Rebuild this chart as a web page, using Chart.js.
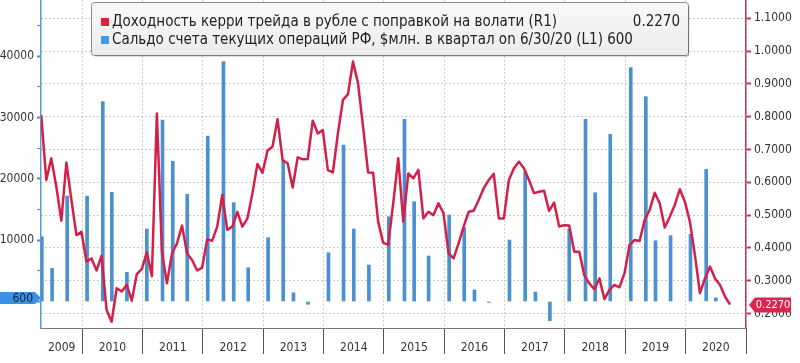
<!DOCTYPE html>
<html>
<head>
<meta charset="utf-8">
<script src="https://cdn.jsdelivr.net/npm/chart.js@4.4.0/dist/chart.umd.min.js"></script>
<style>
  html, body { margin: 0; padding: 0; background: #fff; }
  #wrap { width: 800px; height: 363px; }
</style>
</head>
<body>
<div id="wrap"><canvas id="carryChart" width="800" height="363"></canvas></div>
<script>
// years shown on the bottom axis
const years = [2009, 2010, 2011, 2012, 2013, 2014, 2015, 2016, 2017, 2018, 2019, 2020];

// carry-trade return, monthly from April 2009 (R1)
const lineStart = 2009.32;
const carryValues = [
  0.805, 0.607, 0.673, 0.587, 0.483, 0.660, 0.546, 0.439, 0.449,
  0.358, 0.368, 0.331, 0.376, 0.211, 0.175, 0.277, 0.267, 0.287, 0.239, 0.320, 0.335,
  0.387, 0.314, 0.810, 0.388, 0.292, 0.383, 0.414, 0.468, 0.383, 0.363, 0.331, 0.340,
  0.426, 0.422, 0.465, 0.561, 0.455, 0.465, 0.510, 0.465, 0.490, 0.567, 0.656, 0.629,
  0.696, 0.709, 0.792, 0.668, 0.658, 0.584, 0.676, 0.670, 0.671, 0.788, 0.749, 0.759,
  0.637, 0.630, 0.749, 0.851, 0.869, 0.968, 0.902, 0.770, 0.630, 0.629, 0.480, 0.416,
  0.409, 0.536, 0.673, 0.480, 0.627, 0.612, 0.638, 0.490, 0.510, 0.500, 0.536, 0.506,
  0.384, 0.368, 0.414, 0.465, 0.510, 0.513, 0.546, 0.582, 0.607, 0.626, 0.490, 0.490,
  0.607, 0.643, 0.663, 0.643, 0.607, 0.567, 0.571, 0.574, 0.513, 0.538, 0.465, 0.469,
  0.468, 0.388, 0.388, 0.317, 0.292, 0.274, 0.307, 0.244, 0.272, 0.287, 0.280, 0.323,
  0.409, 0.424, 0.421, 0.485, 0.516, 0.568, 0.536, 0.462, 0.495, 0.531, 0.579, 0.541,
  0.480, 0.378, 0.262, 0.307, 0.343, 0.307, 0.287, 0.251, 0.227
];

// current account, $ mln per quarter (L1)
const barDates = [
  2009.33, 2009.50, 2009.75,
  2010.08, 2010.34, 2010.49, 2010.74,
  2011.07, 2011.33, 2011.50, 2011.74,
  2012.08, 2012.34, 2012.51, 2012.75,
  2013.08, 2013.33, 2013.50, 2013.74,
  2014.08, 2014.33, 2014.50, 2014.75,
  2015.08, 2015.34, 2015.50, 2015.74,
  2016.08, 2016.33, 2016.50, 2016.74,
  2017.08, 2017.34, 2017.51, 2017.75,
  2018.07, 2018.34, 2018.50, 2018.75,
  2019.09, 2019.34, 2019.50, 2019.75,
  2020.08, 2020.34, 2020.50
];
const currentAccount = [
  10570, 5400, 17200,
  17200, 32600, 17800, 4760,
  11830, 29600, 22870, 17490,
  27000, 39120, 16120, 5510,
  10410, 23080, 1420, -450,
  7960, 25530, 11830, 5950,
  13830, 29720, 16280, 7420,
  14110, 12040, 1880, -150,
  10030, 21170, 1550, -3130,
  11780, 29720, 17750, 27270,
  38140, 33410, 9920, 10730,
  11000, 21570, 600
];

const leftTicks = [0, 5000, 10000, 15000, 20000, 25000, 30000, 35000, 40000, 45000];
const rightTicks = [0.2, 0.25, 0.3, 0.35, 0.4, 0.45, 0.5, 0.55, 0.6, 0.65, 0.7, 0.75,
  0.8, 0.85, 0.9, 0.95, 1.0, 1.05, 1.1, 1.15];
const yearTicks = [2010, 2011, 2012, 2013, 2014, 2015, 2016, 2017, 2018, 2019, 2020, 2021];

const legendLabels = [
  "Доходность керри трейда в рубле с поправкой на волати (R1)",
  "Сальдо счета текущих операций РФ, $млн. в квартал on 6/30/20 (L1)"
];
const lastValues = ["0.2270", "600"];

const NARROW = "'Liberation Sans Narrow', 'DejaVu Sans Condensed', sans-serif";
const LEGEND_FONT = "'DejaVu Sans Condensed', 'Liberation Sans', sans-serif";
const RED = "#d42048";
const BLUE = "#4c91cf";

function noPad(s) {
  s.paddingTop = 0;
  s.paddingBottom = 0;
  s.paddingLeft = 0;
  s.paddingRight = 0;
}

function isMajor(v, step) {
  return Math.abs(v / step - Math.round(v / step)) < 1e-6;
}

function drawLegend(chart) {
  const c = chart.ctx;
  c.save();
  const bx = 91.5, by = 2.5, bw = 597, bh = 53;
  const g = c.createLinearGradient(0, by, 0, by + bh);
  g.addColorStop(0, "#f9f9f9");
  g.addColorStop(1, "#ececec");
  c.beginPath();
  c.roundRect(bx, by, bw, bh, 3);
  c.fillStyle = g;
  c.fill();
  c.strokeStyle = "#8c8c8c";
  c.lineWidth = 1;
  c.stroke();
  c.beginPath();
  c.moveTo(bx + 3, by + bh + 0.5);
  c.lineTo(bx + bw, by + bh + 0.5);
  c.lineTo(bx + bw + 0.5, by + 3);
  c.strokeStyle = "rgba(0,0,0,0.25)";
  c.stroke();

  // fit the font to the first row width seen in the picture
  let size = 14;
  c.font = size + "px " + LEGEND_FONT;
  size = Math.max(11, Math.min(15, size * 461 / c.measureText(legendLabels[0]).width));
  c.font = size + "px " + LEGEND_FONT;
  c.textBaseline = "middle";

  const rows = [22, 40];
  c.fillStyle = "#e0203f";
  c.fillRect(101, rows[0] - 4, 8, 8);
  c.fillStyle = "#3d9be9";
  c.fillRect(101, rows[1] - 4, 8, 8);

  c.fillStyle = "#222";
  c.textAlign = "left";
  c.fillText(legendLabels[0], 112, rows[0]);
  c.fillText(legendLabels[1] + " " + lastValues[1], 112, rows[1]);
  c.textAlign = "right";
  c.fillText(lastValues[0], 680, rows[0]);
  c.restore();
}

function drawYearLabels(chart) {
  const c = chart.ctx;
  const xs = chart.scales.x;
  c.save();
  c.font = "12px " + NARROW;
  c.fillStyle = "#333";
  c.textAlign = "center";
  c.textBaseline = "middle";
  years.forEach(function (yr) {
    const lo = Math.max(yr, xs.min);
    const hi = Math.min(yr + 1, xs.max);
    const px = (xs.getPixelForValue(lo) + xs.getPixelForValue(hi)) / 2;
    c.fillText(String(yr), px, chart.chartArea.bottom + 20);
  });
  c.restore();
}

function drawTags(chart) {
  const c = chart.ctx;
  const area = chart.chartArea;
  c.save();
  c.textBaseline = "middle";

  // left: last current account value
  c.font = "12px " + NARROW;
  const yl = Math.round(chart.scales.y.getPixelForValue(currentAccount[currentAccount.length - 1]));
  c.beginPath();
  c.moveTo(0, yl - 6);
  c.lineTo(area.left - 6, yl - 6);
  c.lineTo(area.left, yl);
  c.lineTo(area.left - 6, yl + 6);
  c.lineTo(0, yl + 6);
  c.closePath();
  c.fillStyle = "#3b8fe4";
  c.fill();
  c.fillStyle = "#10203a";
  c.textAlign = "right";
  c.fillText(lastValues[1], area.left - 8, yl + 0.5);

  // right: last carry value
  c.font = "11px " + NARROW;
  const yr = Math.round(chart.scales.y1.getPixelForValue(carryValues[carryValues.length - 1]));
  const x0 = area.right + 3;
  c.beginPath();
  c.moveTo(x0, yr);
  c.lineTo(x0 + 6, yr - 7.5);
  c.lineTo(x0 + 42, yr - 7.5);
  c.lineTo(x0 + 42, yr + 7.5);
  c.lineTo(x0 + 6, yr + 7.5);
  c.closePath();
  c.fillStyle = "#d9264f";
  c.fill();
  c.fillStyle = "#fff";
  c.textAlign = "center";
  c.fillText(lastValues[0], x0 + 24, yr + 0.5);
  c.restore();
}

const overlayPlugin = {
  id: "overlay",
  beforeDraw(chart) {
    const c = chart.ctx;
    c.save();
    c.fillStyle = "#fff";
    c.fillRect(0, 0, chart.width, chart.height);
    c.restore();
  },
  afterDraw(chart) {
    drawYearLabels(chart);
    drawTags(chart);
    drawLegend(chart);
  }
};

const ctx = document.getElementById("carryChart").getContext("2d");

const chart = new Chart(ctx, {
  data: {
    datasets: [
      {
        type: "line",
        label: legendLabels[0],
        data: carryValues.map((v, i) => ({ x: lineStart + i / 12, y: v })),
        yAxisID: "y1",
        borderColor: RED,
        borderWidth: 2.5,
        borderJoinStyle: "round",
        pointRadius: 0,
        tension: 0,
        order: 0,
      },
      {
        type: "bar",
        label: legendLabels[1],
        data: barDates.map((d, i) => ({ x: d, y: currentAccount[i] })),
        yAxisID: "y",
        backgroundColor: BLUE,
        barThickness: 3,
        order: 1,
      },
    ],
  },
  options: {
    responsive: false,
    animation: false,
    layout: { padding: 0 },
    plugins: {
      legend: { display: false },
      tooltip: { enabled: false },
    },
    scales: {
      x: {
        type: "linear",
        position: "bottom",
        offset: false,
        min: 2009.316,
        max: 2021,
        afterBuildTicks: (s) => {
          s.ticks = yearTicks.map((v) => ({ value: v }));
        },
        afterFit: (s) => {
          s.height = 35;
          noPad(s);
        },
        ticks: { display: false },
        grid: {
          offset: false,
          color: "#cfcfcf",
          tickColor: "#555",
          tickLength: 26,
          tickWidth: 1,
        },
        border: { color: "#777", width: 1, dash: [2, 2] },
      },
      y: {
        type: "linear",
        position: "left",
        min: -4320,
        max: 49180,
        afterBuildTicks: (s) => {
          s.ticks = leftTicks.map((v) => ({ value: v }));
        },
        afterFit: (s) => {
          s.width = 41;
          noPad(s);
        },
        ticks: {
          padding: 3,
          color: "#333",
          font: { family: NARROW, size: 12 },
          callback: (v) => (v > 0 && isMajor(v, 10000) ? String(v) : ""),
        },
        grid: {
          drawOnChartArea: false,
          tickColor: BLUE,
          tickLength: 4,
          tickWidth: (c) => (c.tick && isMajor(c.tick.value, 10000) ? 2 : 1),
        },
        border: { color: "#5b9bd5", width: 1.5 },
      },
      y1: {
        type: "linear",
        position: "right",
        min: 0.1558,
        max: 1.1558,
        afterBuildTicks: (s) => {
          s.ticks = rightTicks.map((v) => ({ value: v }));
        },
        afterFit: (s) => {
          s.width = 54;
          noPad(s);
        },
        ticks: {
          padding: 3,
          color: "#333",
          font: { family: NARROW, size: 12 },
          callback: (v) => (isMajor(v, 0.1) ? v.toFixed(4) : ""),
        },
        grid: {
          color: (c) => (c.tick && isMajor(c.tick.value, 0.1) ? "#c8c8c8" : "rgba(0,0,0,0)"),
          tickColor: "#c2395f",
          tickLength: 5,
          tickWidth: (c) => (c.tick && isMajor(c.tick.value, 0.1) ? 2 : 1),
        },
        border: { color: "#c2395f", width: 1.5, dash: [2, 2] },
      },
    },
  },
  plugins: [overlayPlugin],
});
</script>
</body>
</html>
